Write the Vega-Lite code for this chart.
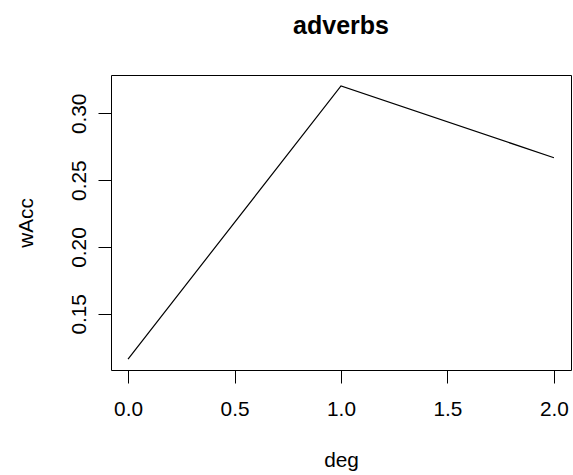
{
  "$schema": "https://vega.github.io/schema/vega-lite/v6.json",
  "autosize": "none",
  "width": 460,
  "height": 295,
  "padding": {"left": 111, "top": 75, "right": 2, "bottom": 105},
  "background": "white",
  "title": {
    "text": "adverbs",
    "font": "Liberation Sans",
    "fontSize": 25,
    "fontWeight": "bold",
    "color": "black",
    "anchor": "middle",
    "baseline": "alphabetic",
    "offset": 16
  },
  "config": {
    "font": "Liberation Sans",
    "view": {"stroke": "black", "strokeWidth": 1}
  },
  "data": {
    "values": [
      {"deg": 0, "wAcc": 0.1162},
      {"deg": 1, "wAcc": 0.3205},
      {"deg": 2, "wAcc": 0.2668}
    ]
  },
  "mark": {"type": "line", "color": "black", "strokeWidth": 1.2},
  "encoding": {
    "x": {
      "field": "deg",
      "type": "quantitative",
      "scale": {"domain": [-0.08, 2.08], "nice": false, "zero": false},
      "axis": {
        "values": [0, 0.5, 1, 1.5, 2],
        "format": ".1f",
        "grid": false,
        "domain": false,
        "tickSize": 13,
        "tickColor": "black",
        "tickWidth": 1,
        "labelFontSize": 20.8,
        "labelColor": "black",
        "labelBaseline": "top",
        "labelPadding": 16,
        "labelFlush": false,
        "labelOverlap": false,
        "title": "deg",
        "titleFontSize": 20.8,
        "titleFontWeight": "normal",
        "titleColor": "black",
        "titleBaseline": "alphabetic",
        "titleAlign": "center",
        "titleY": 96
      }
    },
    "y": {
      "field": "wAcc",
      "type": "quantitative",
      "scale": {"domain": [0.108, 0.3287], "nice": false, "zero": false},
      "axis": {
        "values": [0.15, 0.2, 0.25, 0.3],
        "format": ".2f",
        "grid": false,
        "domain": false,
        "tickSize": 13,
        "tickColor": "black",
        "tickWidth": 1,
        "labelFontSize": 20.8,
        "labelColor": "black",
        "labelAngle": -90,
        "labelAlign": "center",
        "labelBaseline": "alphabetic",
        "labelPadding": 13,
        "labelFlush": false,
        "labelOverlap": false,
        "title": "wAcc",
        "titleFontSize": 20.8,
        "titleFontWeight": "normal",
        "titleColor": "black",
        "titleAngle": -90,
        "titleAlign": "center",
        "titleBaseline": "alphabetic",
        "titleX": -78.5,
        "titleY": 147.5
      }
    }
  }
}
